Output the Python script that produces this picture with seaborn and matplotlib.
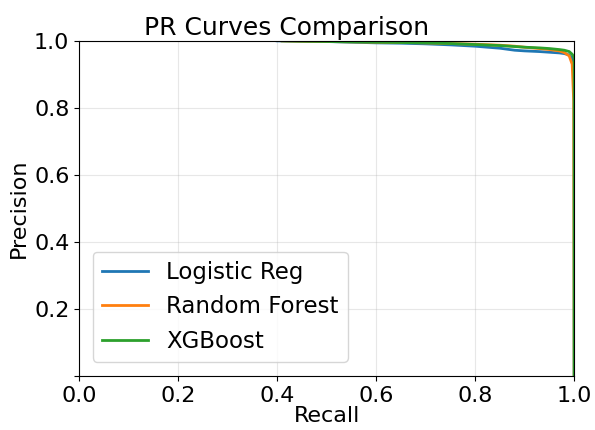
import matplotlib
matplotlib.use("Agg")
import matplotlib.pyplot as plt
import numpy as np
import pandas as pd
import seaborn as sns

# PR curve points (recall, precision)
lr_recall = [0.40, 0.45, 0.50, 0.55, 0.60, 0.65, 0.70, 0.75, 0.80, 0.85, 0.88, 0.90, 0.93, 0.95, 0.97, 0.98, 0.99, 0.995, 1.0, 1.0]
lr_precision = [1.000, 0.999, 0.998, 0.996, 0.994, 0.993, 0.991, 0.988, 0.984, 0.978, 0.972, 0.970, 0.968, 0.966, 0.964, 0.962, 0.958, 0.950, 0.930, 0.0]

rf_recall = [0.41, 0.45, 0.50, 0.55, 0.60, 0.65, 0.70, 0.75, 0.80, 0.85, 0.88, 0.90, 0.93, 0.95, 0.97, 0.98, 0.99, 0.996, 0.999, 1.0]
rf_precision = [1.000, 0.999, 0.998, 0.997, 0.996, 0.995, 0.994, 0.992, 0.990, 0.987, 0.984, 0.981, 0.977, 0.974, 0.970, 0.965, 0.955, 0.930, 0.820, 0.0]

xgb_recall = [0.41, 0.45, 0.50, 0.55, 0.60, 0.65, 0.70, 0.75, 0.80, 0.85, 0.88, 0.90, 0.93, 0.95, 0.97, 0.98, 0.99, 0.996, 1.0, 1.0]
xgb_precision = [1.000, 0.999, 0.998, 0.997, 0.996, 0.995, 0.994, 0.992, 0.989, 0.986, 0.983, 0.981, 0.979, 0.977, 0.974, 0.972, 0.968, 0.960, 0.950, 0.0]

model_names = ["Logistic Reg", "Random Forest", "XGBoost"]

frames = []
for name, r, p in zip(model_names, [lr_recall, rf_recall, xgb_recall],
                      [lr_precision, rf_precision, xgb_precision]):
    frames.append(pd.DataFrame({"Recall": r, "Precision": p, "Model": name}))
df = pd.concat(frames, ignore_index=True)

fig = plt.figure(figsize=(5.95, 4.3), dpi=100)
ax = fig.add_axes([0.133, 0.126, 0.832, 0.779])

colors = sns.color_palette("tab10")[:3]
for name, c in zip(model_names, colors):
    sub = df[df["Model"] == name]
    sns.lineplot(x=sub["Recall"].to_numpy(), y=sub["Precision"].to_numpy(), ax=ax,
                 color=c, linewidth=2, label=name, sort=False, estimator=None)

ax.set_xlim(0, 1.0)
ax.set_ylim(0, 1.0)
ax.set_xticks([0.0, 0.2, 0.4, 0.6, 0.8, 1.0])
ax.set_yticks([0.0, 0.2, 0.4, 0.6, 0.8, 1.0])
ax.set_yticklabels(["", "0.2", "0.4", "0.6", "0.8", "1.0"])
ax.tick_params(labelsize=16)
ax.grid(True, alpha=0.3)
ax.set_xlabel("Recall", fontsize=16, labelpad=0)
ax.set_ylabel("Precision", fontsize=16, labelpad=4)
ax.set_title("PR Curves Comparison", fontsize=18, pad=4, x=0.42)
ax.legend(loc="lower left", fontsize=16.5, labelspacing=0.5, borderaxespad=0.6)

fig.savefig("out.png", dpi=100)
